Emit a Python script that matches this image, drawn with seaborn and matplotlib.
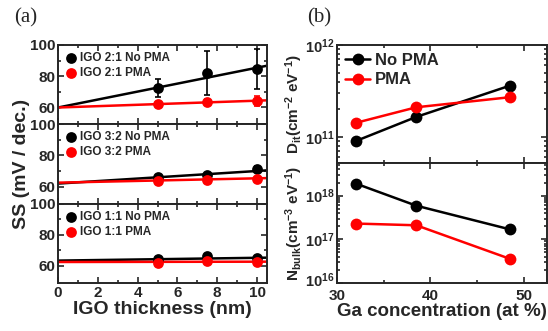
import numpy as np
import pandas as pd
import matplotlib
matplotlib.use('Agg')
import matplotlib.pyplot as plt
import matplotlib.transforms as mtransforms
import seaborn as sns
from matplotlib.ticker import MultipleLocator, FixedLocator, FuncFormatter, LogLocator, NullFormatter

# ---- data (a): SS vs IGO thickness ----
thickness = [5, 7.5, 10]
ratios = ['2:1', '3:2', '1:1']
ss_nopma = {'2:1': [72.5, 82.0, 84.6], '3:2': [66.1, 67.6, 71.4], '1:1': [64.2, 66.3, 65.3]}
ss_nopma_err = {'2:1': [5.7, 14.3, 12.7], '3:2': [1.0, 1.0, 2.1], '1:1': [0.6, 1.0, 0.6]}
ss_pma = {'2:1': [62.3, 63.6, 64.0], '3:2': [63.6, 64.4, 65.0], '1:1': [62.1, 63.2, 62.3]}
ss_pma_err = {'2:1': [1.0, 1.5, 3.4], '3:2': [0.8, 0.8, 0.8], '1:1': [0.8, 0.8, 0.8]}
# linear fits (intercept, slope)
fit_nopma = {'2:1': (59.8, 2.56), '3:2': (61.9, 0.81), '1:1': (63.4, 0.18)}
fit_pma = {'2:1': (59.8, 0.44), '3:2': (62.5, 0.28), '1:1': (62.5, 0.02)}
fit_x = [0, 10.5]

# ---- data (b): Dit and Nbulk vs Ga concentration ----
ga_conc = [32, 38.5, 48.5]
dit_nopma = [9.0e10, 1.65e11, 3.6e11]
dit_pma = [1.42e11, 2.1e11, 2.7e11]
nbulk_nopma = [1.9e18, 5.9e17, 1.7e17]
nbulk_pma = [2.3e17, 2.1e17, 3.6e16]

sns.set_style('ticks')
plt.rcParams['font.family'] = ['Liberation Sans', 'DejaVu Sans']
plt.rcParams['font.weight'] = 'bold'
plt.rcParams['axes.labelweight'] = 'bold'
plt.rcParams['mathtext.fontset'] = 'custom'
plt.rcParams['mathtext.rm'] = 'Liberation Sans:bold'
plt.rcParams['mathtext.bf'] = 'Liberation Sans:bold'
plt.rcParams['mathtext.it'] = 'Liberation Sans:bold'
plt.rcParams['mathtext.default'] = 'bf'
plt.rcParams['xtick.direction'] = 'in'
plt.rcParams['ytick.direction'] = 'in'
plt.rcParams['axes.linewidth'] = 1.4

fig = plt.figure(figsize=(5.48, 3.31), dpi=100)

# panel positions
lx, lw = 0.1058, 0.3814
ph = 0.2397
left_axes = []
for i in range(3):
    ax = fig.add_axes([lx, 0.145 + (2 - i) * ph, lw, ph])
    left_axes.append(ax)

for ax, r in zip(left_axes, ratios):
    a0, s0 = fit_nopma[r]
    a1, s1 = fit_pma[r]
    fx = np.array(fit_x)
    sns.lineplot(x=fx, y=a0 + s0 * fx, color='black', lw=1.8, ax=ax)
    sns.lineplot(x=fx, y=a1 + s1 * fx, color='red', lw=1.8, ax=ax)
    ax.errorbar(thickness, ss_nopma[r], yerr=ss_nopma_err[r], fmt='none', ecolor='black',
                elinewidth=1.2, capsize=2.5, capthick=1.2)
    ax.errorbar(thickness, ss_pma[r], yerr=ss_pma_err[r], fmt='none', ecolor='red',
                elinewidth=1.2, capsize=2.5, capthick=1.2)
    sns.scatterplot(x=thickness, y=ss_nopma[r], color='black', s=60, edgecolor='black',
                    linewidth=0, ax=ax, label=f'IGO {r} No PMA', zorder=5)
    sns.scatterplot(x=thickness, y=ss_pma[r], color='red', s=60, edgecolor='red',
                    linewidth=0, ax=ax, label=f'IGO {r} PMA', zorder=5)
    ax.set_xlim(0, 10.5)
    ax.set_ylim(49, 100)
    ax.yaxis.set_major_locator(FixedLocator([60, 80, 100]))
    ax.yaxis.set_minor_locator(FixedLocator([70, 90]))
    ax.xaxis.set_major_locator(MultipleLocator(2))
    ax.xaxis.set_minor_locator(MultipleLocator(1))
    ax.tick_params(which='both', top=True, right=True, labelsize=11, width=1.2, pad=2)
    ax.tick_params(which='major', length=4)
    ax.tick_params(which='minor', length=2.5)
    ax.set_ylabel('')
    leg = ax.legend(loc='upper left', frameon=False, fontsize=8.5, handletextpad=0.3,
                    borderaxespad=0.2, labelspacing=0.25, handlelength=1.0)
    for t in leg.get_texts():
        t.set_fontweight('bold')
    if ax is not left_axes[-1]:
        ax.set_xticklabels([])
    for lab in ax.get_yticklabels():
        lab.set_fontweight('bold')

left_axes[-1].set_xlabel('IGO thickness (nm)', fontsize=14, fontweight='bold', labelpad=1)
for lab in left_axes[-1].get_xticklabels():
    lab.set_fontweight('bold')
fig.text(0.04, 0.145 + 1.5 * ph, 'SS (mV / dec.)', rotation=90, ha='center', va='center',
         fontsize=14, fontweight='bold')

# right panels
rx, rw = 0.615, 0.383
ax_t = fig.add_axes([rx, 0.5076, rw, 0.3565])
ax_b = fig.add_axes([rx, 0.145, rw, 0.3625])

sns.lineplot(x=ga_conc, y=dit_nopma, color='black', marker='o', markersize=8.5, markeredgewidth=0,
             lw=1.8, ax=ax_t, label='No PMA')
sns.lineplot(x=ga_conc, y=dit_pma, color='red', marker='o', markersize=8.5, markeredgewidth=0,
             lw=1.8, ax=ax_t, label='PMA')
sns.lineplot(x=ga_conc, y=nbulk_nopma, color='black', marker='o', markersize=8.5, markeredgewidth=0,
             lw=1.8, ax=ax_b, legend=False)
sns.lineplot(x=ga_conc, y=nbulk_pma, color='red', marker='o', markersize=8.5, markeredgewidth=0,
             lw=1.8, ax=ax_b, legend=False)

def sci_fmt(v, pos):
    e = int(round(np.log10(v)))
    return r'$\mathbf{10^{%d}}$' % e

for ax in (ax_t, ax_b):
    ax.set_yscale('log')
    ax.set_xlim(30, 52.5)
    ax.xaxis.set_major_locator(MultipleLocator(10))
    ax.xaxis.set_minor_locator(MultipleLocator(5))
    ax.yaxis.set_major_locator(LogLocator(base=10, numticks=10))
    ax.yaxis.set_minor_locator(LogLocator(base=10, subs=np.arange(2, 10), numticks=10))
    ax.yaxis.set_major_formatter(FuncFormatter(sci_fmt))
    ax.yaxis.set_minor_formatter(NullFormatter())
    ax.tick_params(which='both', top=True, right=True, width=1.2)
    ax.tick_params(axis='y', labelsize=10.5, pad=2)
    ax.tick_params(axis='x', labelsize=11, pad=4)
    ax.tick_params(which='major', length=4)
    ax.tick_params(which='minor', length=2)

ax_t.set_ylim(5.2e10, 1e12)
ax_b.set_ylim(1e16, 5.6e18)
ax_t.set_xticklabels([])
for lab in ax_b.get_xticklabels():
    lab.set_fontweight('bold')

leg = ax_t.legend(loc='upper left', frameon=False, fontsize=12, handletextpad=0.3,
                  borderaxespad=0.1, labelspacing=0.25, handlelength=1.5)
for t in leg.get_texts():
    t.set_fontweight('bold')

ax_t.set_ylabel(r'D$_{it}$(cm$^{-2}$ eV$^{-1}$)', fontsize=11, fontweight='bold', labelpad=0)
ax_b.set_ylabel(r'N$_{bulk}$(cm$^{-3}$ eV$^{-1}$)', fontsize=11, fontweight='bold', labelpad=0)
ax_b.set_xlabel('Ga concentration (at %)', fontsize=13.5, fontweight='bold', labelpad=0)

fig.text(0.025, 0.945, '(a)', fontsize=15, family='Liberation Serif', fontweight='normal', va='center')
fig.text(0.56, 0.945, '(b)', fontsize=15, family='Liberation Serif', fontweight='normal', va='center')

# nudge the lowest Nbulk tick label up a little so it clears the "30"
fig.canvas.draw()
shift = mtransforms.ScaledTranslation(0, 4 / 100, fig.dpi_scale_trans)
for tick in ax_b.yaxis.get_major_ticks():
    if np.isclose(tick.get_loc(), 1e16):
        tick.label1.set_transform(tick.label1.get_transform() + shift)

fig.savefig('out.png', dpi=100)
